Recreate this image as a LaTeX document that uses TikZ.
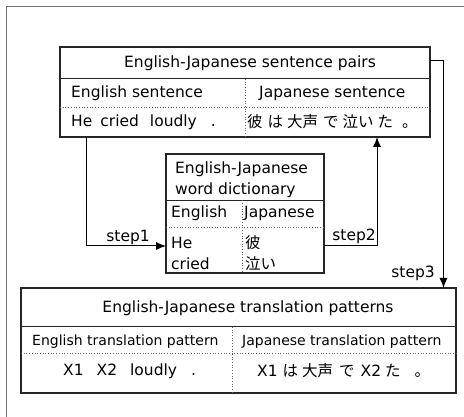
\documentclass[tikz,border=0pt]{standalone}
\usepackage{fontspec}
\setmainfont{DejaVu Sans}
\newfontfamily\jp{Noto Sans CJK JP}
\usetikzlibrary{arrows.meta}
\begin{document}
\begin{tikzpicture}[x=1pt,y=-1pt,
  box/.style={draw=black!85,line width=1.1pt,rectangle,inner sep=0pt},
  sep/.style={draw=black!85,line width=1pt},
  dots/.style={draw=black!60,dotted,line width=0.7pt},
  txt/.style={inner sep=0pt,font=\fontsize{15.5}{19}\selectfont},
  jtxt/.style={inner sep=0pt,font=\fontsize{15.5}{19}\selectfont\jp},
  small/.style={inner sep=0pt,font=\fontsize{14}{16}\selectfont},
  conn/.style={draw=black,line width=1pt,-{Latex[length=10pt,width=8pt]}},
  lbl/.style={inner sep=0pt,font=\fontsize{15.5}{19}\selectfont}]
\useasboundingbox (0,0) rectangle (464,417);
\fill[white] (0,0) rectangle (464,417);
% outer frame (cropped)
\draw[black!55,line width=1.3pt] (6.5,417) -- (6.5,6.5) -- (464,6.5);
% top box
\node[box,minimum width=370pt,minimum height=90pt] (pairs) at (245,92) {};
\draw[sep] (60,79) -- (430,79);
\draw[dots] (60,107) -- (430,107);
\draw[dots] (245,79) -- (245,137);
\node[txt] (pt) at (250,63) {English-Japanese sentence pairs};
\node[txt,anchor=west] (pe) at (71,93.5) {English sentence};
\node[txt,anchor=west] (pj) at (259,93.5) {Japanese sentence};
\node[txt,anchor=west] (pes) at (71,122) {He\hspace{8pt}cried\hspace{11pt}loudly\hspace{14pt}.};
\node[jtxt,anchor=west] (pjs) at (247,122) {彼\hspace{5pt}は\hspace{4pt}大声\hspace{5pt}で\hspace{4pt}泣い\hspace{4pt}た\hspace{9pt}。};
% dictionary box
\node[box,minimum width=158pt,minimum height=119pt] (dict) at (245,213.5) {};
\draw[sep] (166,200.5) -- (324,200.5);
\draw[dots] (166,227) -- (324,227);
\draw[dots] (242.7,200.5) -- (242.7,273);
\node[txt,anchor=west] (dt1) at (175,169.5) {English-Japanese};
\node[txt,anchor=west] (dt2) at (175,190.5) {word dictionary};
\node[txt,anchor=west] (de) at (171,213.5) {English};
\node[txt,anchor=west] (dj) at (244,213.5) {Japanese};
\node[txt,anchor=west] (dhe) at (171,243) {He};
\node[txt,anchor=west] (dcr) at (171,264) {cried};
\node[jtxt,anchor=west] (dka) at (245,243) {彼};
\node[jtxt,anchor=west] (dna) at (245,264) {泣い};
% bottom box
\node[box,minimum width=435pt,minimum height=105pt] (pat) at (238.5,340.5) {};
\draw[sep] (21,327) -- (456,327);
\draw[dots] (21,353) -- (456,353);
\draw[dots] (232,327) -- (232,393);
\node[txt] (bt) at (248,308) {English-Japanese translation patterns};
\node[small,anchor=west] (be) at (32,342) {English translation pattern};
\node[small,anchor=west] (bj) at (242,342) {Japanese translation pattern};
\node[txt,anchor=west] (bes) at (63,371) {X1\hspace{13pt}X2\hspace{13pt}loudly\hspace{14pt}.};
\node[txt,anchor=west] (bjs) at (257,371) {X1\hspace{5pt}{\jp は}\hspace{4pt}{\jp 大声}\hspace{6pt}{\jp で}\hspace{6pt}X2\hspace{4pt}{\jp た}\hspace{14pt}{\jp 。}};
% connectors
\coordinate (s1a) at (86,137);
\coordinate (s1b) at (166,246);
\coordinate (s2a) at (324,246);
\coordinate (s2b) at (377,137);
\coordinate (s3a) at (430,60.5);
\coordinate (s3b) at (443.5,288);
\draw[conn] (s1a) |- (s1b);
\draw[conn] (s2a) -| (s2b);
\draw[conn] (s3a) -| (s3b);
\node[lbl,anchor=east] (l1) at (150,237) {step1};
\node[lbl,anchor=east] (l2) at (376,236) {step2};
\node[lbl,anchor=east] (l3) at (435,273) {step3};
\end{tikzpicture}
\end{document}
